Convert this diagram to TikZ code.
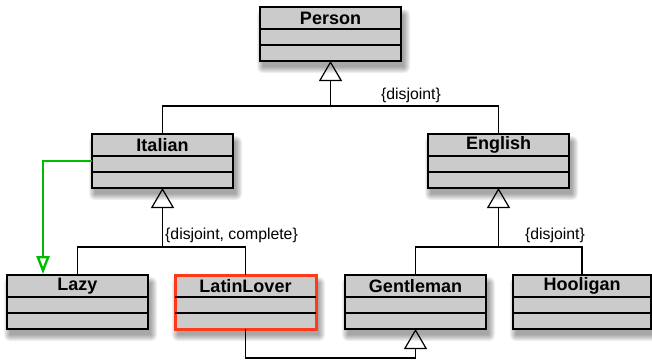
\documentclass[tikz,border=0pt]{standalone}
\usepackage{fontspec}
\setmainfont{Liberation Sans}
\usetikzlibrary{arrows.meta,calc,backgrounds}
\definecolor{boxgray}{HTML}{CBCBCB}
\definecolor{selred}{HTML}{FF3A1A}
\definecolor{linkgreen}{HTML}{00BC00}
\newcommand\umlcls[5][]{%
  \node[cls,#1] (#2) at (#3,#4) {};
  \node[ttl] (#2-t) at ($(#2.north)+(0,11)$) {#5};
  \draw[div] ($(#2.north west)+(0,22)$) -- ($(#2.north east)+(0,22)$);
  \draw[div] ($(#2.north west)+(0,38)$) -- ($(#2.north east)+(0,38)$);
}
\begin{document}
\begin{tikzpicture}[x=1pt,y=-1pt,
  cls/.style={draw=black, line width=1.6pt, fill=boxgray, minimum width=141pt,
    minimum height=54pt, inner sep=0pt, outer sep=0pt, anchor=north west},
  ttl/.style={font=\bfseries\fontsize{18}{20}\selectfont, inner sep=0pt},
  div/.style={draw=black, line width=1.4pt},
  ln/.style={draw=black, line width=1.2pt},
  gen/.style={ln, -{Triangle[open,length=20pt,width=23pt,line width=1.2pt]}},
  grn/.style={draw=linkgreen, line width=2.4pt,
    -{Triangle[open,length=18pt,width=13pt,line width=2.4pt]}},
  lbl/.style={font=\fontsize{15.8}{18}\selectfont, inner sep=0pt}]
\useasboundingbox (0,0) rectangle (652,359);

\umlcls{P}{260}{7}{Person}
\umlcls{I}{92}{134}{Italian}
\umlcls{E}{428}{134}{English}
\umlcls{Lz}{7}{275}{Lazy}
\umlcls[draw=selred, line width=3pt]{LL}{175}{275}{LatinLover}
\umlcls{G}{345}{275}{Gentleman}
\umlcls[minimum width=138pt]{H}{513}{275}{Hooligan}

\begin{scope}[on background layer]
  \foreach \n in {P,I,E,Lz,LL,G,H}{
    \foreach \i in {0,...,6}{
      \fill[black, opacity=0.06, rounded corners=\i pt]
        ($(\n.north west)+(3-\i,8-\i)$) rectangle ($(\n.south east)+(3+\i,6+\i)$);
    }
  }
\end{scope}

% Person generalization
\coordinate (jp) at ($(P.south)+(0,45)$);
\draw[ln] (I.north) |- (jp) -| (E.north);
\draw[gen] (jp) -- (P.south);
\node[lbl] (l1) at (411,95) {\{disjoint\}};

% Italian generalization
\coordinate (ji) at ($(I.south)+(0,59)$);
\draw[ln] (Lz.north) |- (ji) -| (LL.north);
\draw[gen] (ji) -- (I.south);
\node[lbl, anchor=west] (l2) at (165,235) {\{disjoint, complete\}};

% English generalization
\coordinate (je) at ($(E.south)+(0,59)$);
\draw[ln] (G.north) |- (je) -| (H.north);
\draw[gen] (je) -- (E.south);
\node[lbl] (l3) at (555,235) {\{disjoint\}};

% LatinLover -> Gentleman
\coordinate (jb) at ($(G.south)+(0,29)$);
\draw[gen] (LL.south) |- (jb) -- (G.south);

% green link
\coordinate (gs) at ($(I.north west)+(0,27)$);
\coordinate (ge) at ($(Lz.north west)+(36,-1)$);
\draw[grn] (gs) -| (ge);
\end{tikzpicture}
\end{document}
